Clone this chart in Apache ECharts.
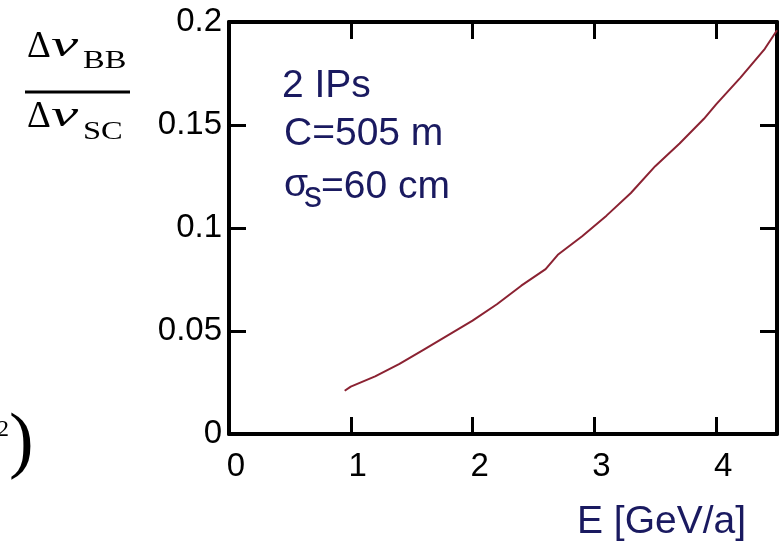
<!DOCTYPE html>
<html>
<head>
<meta charset="utf-8">
<script src="https://cdn.jsdelivr.net/npm/echarts@6/dist/echarts.min.js"></script>
<style>
html,body{margin:0;padding:0;background:#fff;}
#chart{width:780px;height:543px;}
</style>
</head>
<body>
<div id="chart"></div>
<script>
// Data
var energy = [0.95, 1.0, 1.2, 1.4, 1.6, 1.8, 2.0, 2.2, 2.4, 2.6, 2.7, 2.9, 3.1, 3.3, 3.5, 3.7, 3.9, 4.0, 4.2, 4.4, 4.5];
var ratio  = [0.021, 0.023, 0.028, 0.034, 0.041, 0.048, 0.055, 0.063, 0.072, 0.080, 0.087, 0.096, 0.106, 0.117, 0.130, 0.141, 0.153, 0.160, 0.173, 0.187, 0.196];
var xTicks = [0, 1, 2, 3, 4];
var yTickLabels = ['0', '0.05', '0.1', '0.15', '0.2'];
var annotations = ['2 IPs', 'C=505 m'];
var xTitle = 'E [GeV/a]';

var pts = energy.map(function (e, i) { return [e, ratio[i]]; });

var navy = '#1a1a60';
var sansFont = 'Liberation Sans';
var serifFont = 'Liberation Serif';

var chart = echarts.init(document.getElementById('chart'), null, {renderer: 'canvas'});

var axisCommonX = {
  type: 'value', min: 0, max: 4.5, interval: 1,
  axisLine: {show: true, onZero: false, lineStyle: {color: '#000', width: 4}},
  axisTick: {show: true, inside: true, length: 17, lineStyle: {color: '#000', width: 3}},
  splitLine: {show: false}
};
var axisCommonY = {
  type: 'value', min: 0, max: 0.2, interval: 0.05,
  axisLine: {show: true, onZero: false, lineStyle: {color: '#000', width: 4}},
  axisTick: {show: true, inside: true, length: 17, lineStyle: {color: '#000', width: 3}},
  splitLine: {show: false}
};

var option = {
  animation: false,
  backgroundColor: '#fff',
  grid: {left: 229, top: 22, right: 1, bottom: 109, containLabel: false},
  xAxis: [
    Object.assign({}, axisCommonX, {
      position: 'bottom',
      axisLabel: {
        show: true, margin: 16, color: '#000', fontSize: 33, fontFamily: sansFont,
        padding: [0, 0, 0, 14],
        formatter: function (v) { return xTicks.indexOf(v) >= 0 ? String(v) : ''; }
      }
    }),
    Object.assign({}, axisCommonX, {position: 'top', axisLabel: {show: false}})
  ],
  yAxis: [
    Object.assign({}, axisCommonY, {
      position: 'left',
      axisLabel: {
        show: true, margin: 7, color: '#000', fontSize: 33, fontFamily: sansFont,
        padding: [6, 0, 0, 0],
        formatter: function (v) {
          var i = Math.round(v / 0.05);
          return yTickLabels[i] !== undefined ? yTickLabels[i] : '';
        }
      }
    }),
    Object.assign({}, axisCommonY, {position: 'right', axisLabel: {show: false}})
  ],
  series: [{
    type: 'line',
    data: pts,
    xAxisIndex: 0, yAxisIndex: 0,
    showSymbol: false,
    symbol: 'none',
    smooth: false,
    lineStyle: {color: '#8b2232', width: 2}
  }],
  graphic: [
    // annotation block
    {type: 'text', x: 282, y: 86.5, style: {text: annotations[0], fill: navy, fontSize: 39, fontFamily: sansFont, align: 'left', verticalAlign: 'middle'}},
    {type: 'text', x: 284, y: 134.5, style: {text: annotations[1], fill: navy, fontSize: 39, fontFamily: sansFont, align: 'left', verticalAlign: 'middle'}},
    {type: 'text', x: 284, y: 185, style: {text: 'σ', fill: navy, fontSize: 39, fontFamily: sansFont, align: 'left', verticalAlign: 'middle'}},
    {type: 'text', x: 304, y: 197, style: {text: 's', fill: navy, fontSize: 36, fontFamily: sansFont, align: 'left', verticalAlign: 'middle'}},
    {type: 'text', x: 321, y: 187, style: {text: '=60 cm', fill: navy, fontSize: 39, fontFamily: sansFont, align: 'left', verticalAlign: 'middle'}},
    // x axis title
    {type: 'text', x: 577, y: 522, style: {text: xTitle, fill: navy, fontSize: 39, fontFamily: sansFont, align: 'left', verticalAlign: 'middle'}},
    // left formula: Δν_BB / Δν_SC
    {type: 'text', x: 27, y: 47, scaleX: 1.0, style: {text: 'Δ', fill: '#000', fontSize: 37, fontFamily: serifFont, align: 'left', verticalAlign: 'middle'}},
    {type: 'text', x: 51, y: 47, scaleX: 1.7, style: {text: 'ν', fill: '#000', fontSize: 36, fontStyle: 'italic', fontFamily: serifFont, align: 'left', verticalAlign: 'middle'}},
    {type: 'text', x: 83, y: 61, scaleX: 1.25, style: {text: 'BB', fill: '#000', fontSize: 26, fontFamily: serifFont, align: 'left', verticalAlign: 'middle'}},
    {type: 'line', shape: {x1: 25, y1: 92, x2: 130, y2: 92}, style: {stroke: '#000', lineWidth: 3}},
    {type: 'text', x: 27, y: 117, scaleX: 1.0, style: {text: 'Δ', fill: '#000', fontSize: 37, fontFamily: serifFont, align: 'left', verticalAlign: 'middle'}},
    {type: 'text', x: 51, y: 117, scaleX: 1.7, style: {text: 'ν', fill: '#000', fontSize: 36, fontStyle: 'italic', fontFamily: serifFont, align: 'left', verticalAlign: 'middle'}},
    {type: 'text', x: 83, y: 132, scaleX: 1.25, style: {text: 'SC', fill: '#000', fontSize: 26, fontFamily: serifFont, align: 'left', verticalAlign: 'middle'}},
    // cropped formula fragment at bottom-left
    {type: 'text', x: 9, y: 430, style: {text: '2', fill: '#000', fontSize: 24, fontFamily: serifFont, align: 'right', verticalAlign: 'middle'}},
    {type: 'text', x: 9, y: 445, style: {text: ')', fill: '#000', fontSize: 74, fontFamily: serifFont, align: 'left', verticalAlign: 'middle'}}
  ]
};
chart.setOption(option);
</script>
</body>
</html>
